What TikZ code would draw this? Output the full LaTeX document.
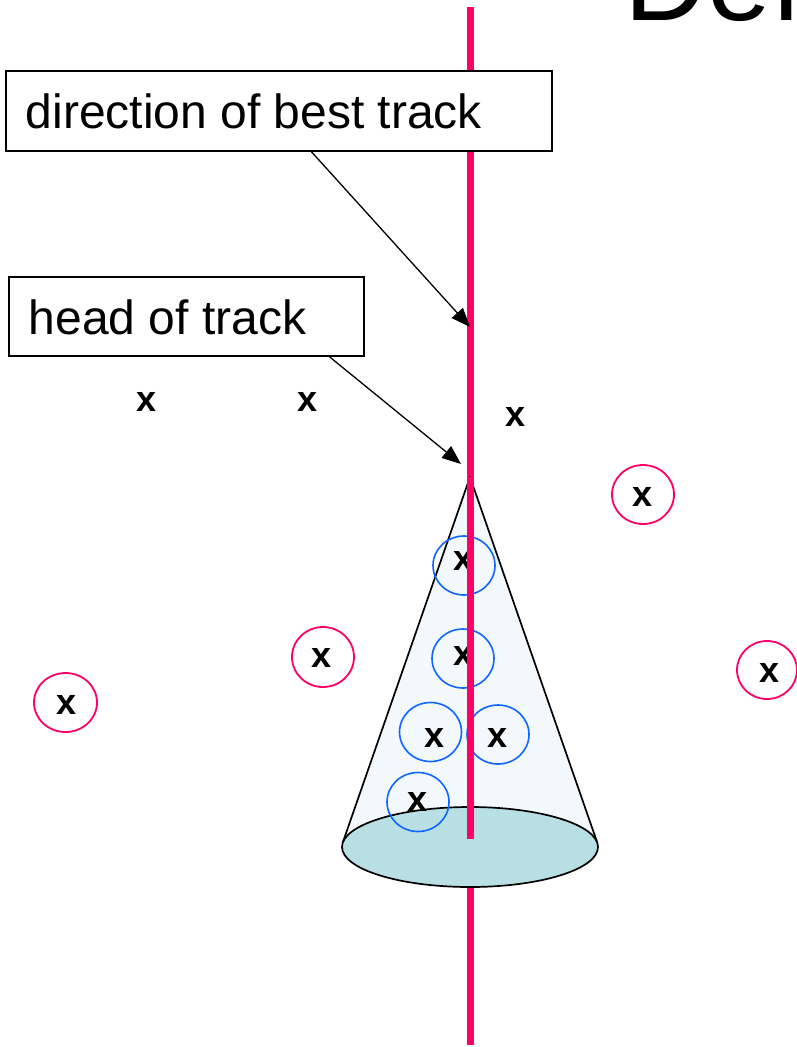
\documentclass[tikz,border=0pt]{standalone}
\usepackage{fontspec}
\setmainfont{Liberation Sans}
\usetikzlibrary{arrows.meta,calc}
\definecolor{trackred}{HTML}{FF0066}
\definecolor{hitblue}{HTML}{1166FF}
\definecolor{conefill}{HTML}{F2F8FB}
\definecolor{basefill}{HTML}{B8DFE3}
\begin{document}
\begin{tikzpicture}[x=1pt,y=-1pt,
  labelbox/.style={draw=black,line width=1.3pt,fill=white,inner sep=0pt},
  labeltext/.style={anchor=base west,inner sep=0pt,font=\fontsize{48}{52}\selectfont},
  hit/.style={inner sep=0pt,font=\fontsize{36}{40}\selectfont\bfseries},
  pinkring/.style={draw=trackred,line width=1.8pt},
  bluering/.style={draw=hitblue,line width=1.6pt},
  track/.style={draw=trackred,line width=7pt},
  pointer/.style={draw=black,line width=1.3pt,-{Triangle[length=19pt,width=15pt]}}]
\useasboundingbox (0,0) rectangle (796,1047);
% title (cropped at the picture's edge, as in the reference)
\node[anchor=base west,inner sep=0pt,font=\fontsize{115}{120}\selectfont] (title) at (624,20) {Def};
% full track line
\coordinate (ttop) at (470,7);
\coordinate (tbot) at (470,1045);
\draw[track] (ttop) -- (tbot);
% cone
\coordinate (apex) at (470,477);
\coordinate (bl) at (342.7,842.7);
\coordinate (br) at (597.3,842.7);
\coordinate (bc) at (470,847);
\fill[conefill] (bl) -- (apex) -- (br) -- cycle;
\draw[line width=1.7pt,line join=round] (bl) -- (apex) -- (br);
\draw[fill=basefill,line width=1.7pt] (bc) ellipse [x radius=128, y radius=40];
% hits inside cone
\node[hit] (h1) at (464,561) {x};
\node[hit] (h2) at (464,656) {x};
\node[hit] (h3) at (435,738) {x};
\node[hit] (h4) at (498,738) {x};
\node[hit] (h5) at (418,802) {x};
\draw[bluering] (464,565.5) ellipse [x radius=31, y radius=29.5];
\draw[bluering] (463,658.5) ellipse [x radius=31, y radius=29.5];
\draw[bluering] (430.5,732) ellipse [x radius=31, y radius=29.5];
\draw[bluering] (498,734.5) ellipse [x radius=31, y radius=29.5];
\draw[bluering] (418,802) ellipse [x radius=31, y radius=29.5];
% track segment on top inside cone
\coordinate (tin) at (470,839);
\draw[track] (apex) -- (tin);
% other hits
\node[hit] (p1) at (147,402) {x};
\node[hit] (p2) at (308,402) {x};
\node[hit] (p3) at (516,417) {x};
\node[hit] (q1) at (643,497) {x};
\node[hit] (q2) at (770,673) {x};
\node[hit] (q3) at (67,705) {x};
\node[hit] (q4) at (322,658) {x};
\draw[pinkring] (643,494.5) ellipse [x radius=31, y radius=29.5];
\draw[pinkring] (767,670) ellipse [x radius=30, y radius=29];
\draw[pinkring] (65.5,702.5) ellipse [x radius=31.5, y radius=29.5];
\draw[pinkring] (323,657) ellipse [x radius=31, y radius=30];
% label boxes
\node[labelbox,minimum width=546pt,minimum height=80pt] (b1) at (279,111) {};
\node[labeltext] (t1) at (25.5,128) {direction of best track};
\node[labelbox,minimum width=355pt,minimum height=79pt] (b2) at (186.5,316.5) {};
\node[labeltext] (t2) at (28.5,334) {head of track};
% pointers
\coordinate (a1s) at ($(b1.south west)+(306,0)$);
\coordinate (a1e) at (470,327);
\coordinate (a2s) at ($(b2.south west)+(321,0)$);
\coordinate (a2e) at (461,464);
\draw[pointer] (a1s) -- (a1e);
\draw[pointer] (a2s) -- (a2e);
\end{tikzpicture}
\end{document}
